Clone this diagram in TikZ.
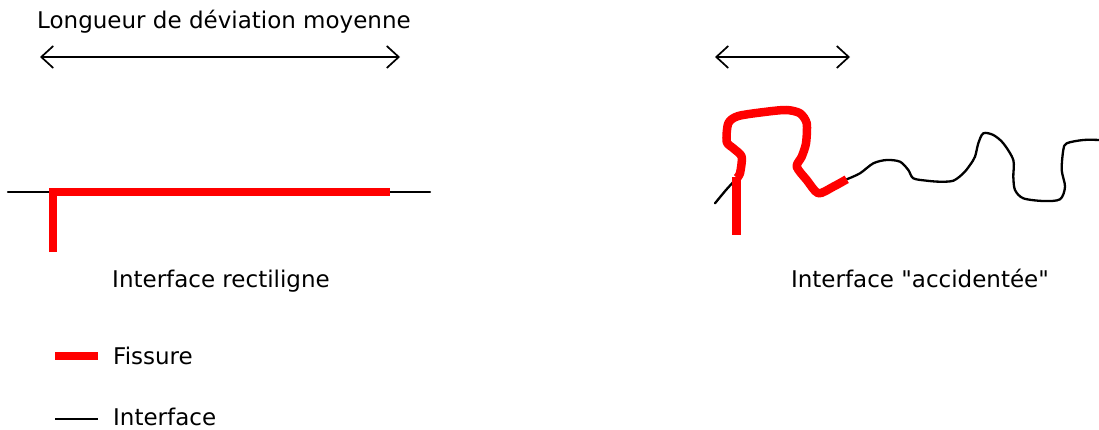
\documentclass[tikz,border=0pt]{standalone}
\usepackage{fontspec}
\setmainfont{DejaVu Sans}
\usetikzlibrary{arrows.meta}
\begin{document}
\begin{tikzpicture}[x=1pt,y=-1pt,
  lbl/.style={inner sep=0pt,font=\fontsize{23}{27}\selectfont},
  dimarrow/.style={line width=1.7pt,{Straight Barb[length=12pt,width=22pt,line width=1.7pt]}-{Straight Barb[length=12pt,width=22pt,line width=1.7pt]}},
  iface/.style={line width=2.3pt,black,line cap=round,line join=round},
  crack/.style={line width=8.5pt,red,line join=round},
]
\useasboundingbox (0,0) rectangle (1099,430);
% top labels
\node[lbl,anchor=base west] (title) at (37,29) {Longueur de déviation moyenne};
\coordinate (a1) at (40,57); \coordinate (a2) at (400,57);
\draw[dimarrow] (a1) -- (a2);
\coordinate (b1) at (715,57); \coordinate (b2) at (850,57);
\draw[dimarrow] (b1) -- (b2);
% straight interface
\coordinate (i1) at (8,192); \coordinate (i2) at (430,192);
\draw[iface] (i1) -- (i2);
\coordinate (c0) at (53,252); \coordinate (c2) at (390,192);
\draw[crack,line cap=butt,line join=miter] (c0) |- (c2);
\node[lbl,anchor=base] (lab1) at (221,287) {Interface rectiligne};
% rough interface
\draw[iface] plot[smooth,tension=0.5] coordinates {(715,203.3) (726,190) (736.7,178.3)};
\draw[iface] plot[smooth,tension=0.5] coordinates {(846.7,179.3) (860,173.3) (873.3,163.3) (886.7,160) (900,161.7) (908.3,170) (913.3,178.3) (926.7,180.7) (940,181.7) (953.3,180.7) (963.3,173.3) (970,165) (975,156.7) (978.3,143.3) (983.3,133.3) (993.3,135) (1003.3,143.3) (1013.3,160) (1013.3,176.7) (1015,190) (1023.3,198.3) (1043.3,201) (1060,199.3) (1065,186.7) (1061.7,170) (1063.3,150) (1066.7,143.3) (1083.3,140) (1100,140)};
\coordinate (r0) at (736.7,235);
\coordinate (r1) at (736.7,176.7);
\draw[crack,line cap=butt] (r0) -- (r1);
\draw[crack,line cap=butt] plot[smooth,tension=0.45] coordinates {(737,178) (740,173.3) (741.7,156.7) (733.3,148.3) (726.7,141.7) (728.3,123.3) (738.3,116) (766.7,111.7) (786.7,110) (800,113.3) (806.7,123.3) (806,143.3) (801.7,156.7) (796.7,166.7) (806.7,180) (818.3,193.3) (833.3,186.7) (846.7,179.3)};
\node[lbl,anchor=base] (lab2) at (920,287) {Interface \textquotedbl accidentée\textquotedbl};
% legend
\coordinate (l1) at (55,356); \coordinate (l2) at (98,356);
\draw[crack,line width=7.5pt] (l1) -- (l2);
\node[lbl,anchor=base west] (leg1) at (113,364) {Fissure};
\coordinate (m1) at (55,419); \coordinate (m2) at (98,419);
\draw[line width=1.8pt] (m1) -- (m2);
\node[lbl,anchor=base west] (leg2) at (113,425) {Interface};
\end{tikzpicture}
\end{document}
